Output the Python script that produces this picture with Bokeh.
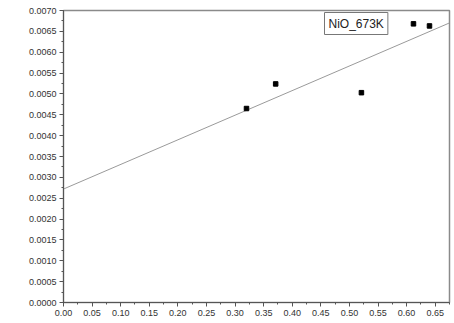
from bokeh.plotting import figure
from bokeh.models import SingleIntervalTicker, NumeralTickFormatter, Label, Range1d
from bokeh.embed import file_html
from bokeh.resources import INLINE

# data
x_vals = [0.320, 0.371, 0.521, 0.612, 0.640]
y_vals = [0.00465, 0.00524, 0.00503, 0.00668, 0.00663]
fit_intercept = 0.00272
fit_slope = 0.00590
x_min, x_max = 0.0, 0.675
y_min, y_max = 0.0, 0.0070
series_label = "NiO_673K"

p = figure(width=454, height=323, output_backend="svg", toolbar_location=None,
           x_range=Range1d(x_min, x_max), y_range=Range1d(y_min, y_max),
           min_border_left=63, min_border_right=5, min_border_top=10, min_border_bottom=21)
p.background_fill_color = "white"
p.border_fill_color = "white"
p.grid.visible = False
p.outline_line_color = "#8a8a8a"
p.outline_line_width = 1.5

line_x = [x_min, x_max]
line_y = [fit_intercept + fit_slope * v for v in line_x]
p.line(line_x, line_y, line_color="#9a9a9a", line_width=1)
p.scatter(x_vals, y_vals, marker="square", size=4.5, color="black")

for ax in (p.xaxis[0], p.yaxis[0]):
    ax.axis_line_color = "#555555"
    ax.major_tick_line_color = "#555555"
    ax.minor_tick_line_color = "#555555"
    ax.major_tick_out = 4
    ax.major_tick_in = 0
    ax.minor_tick_out = 2
    ax.minor_tick_in = 0
    ax.major_label_text_font = "Liberation Sans"
    ax.major_label_text_font_size = "9px"
    ax.major_label_text_color = "#333333"
    ax.major_label_standoff = 3

p.xaxis[0].ticker = SingleIntervalTicker(interval=0.05, num_minor_ticks=2)
p.xaxis[0].formatter = NumeralTickFormatter(format="0.00")
p.yaxis[0].ticker = SingleIntervalTicker(interval=0.0005, num_minor_ticks=2)
p.yaxis[0].formatter = NumeralTickFormatter(format="0.0000")

legend_lbl = Label(x=261, y=268, x_units="screen", y_units="screen", text=series_label,
                   text_font="Liberation Sans", text_font_size="12px", text_color="#222222",
                   border_line_color="#777777", border_line_width=1,
                   background_fill_color="white", padding=4)
p.add_layout(legend_lbl)

open("out.html", "w").write(file_html(p, INLINE))
